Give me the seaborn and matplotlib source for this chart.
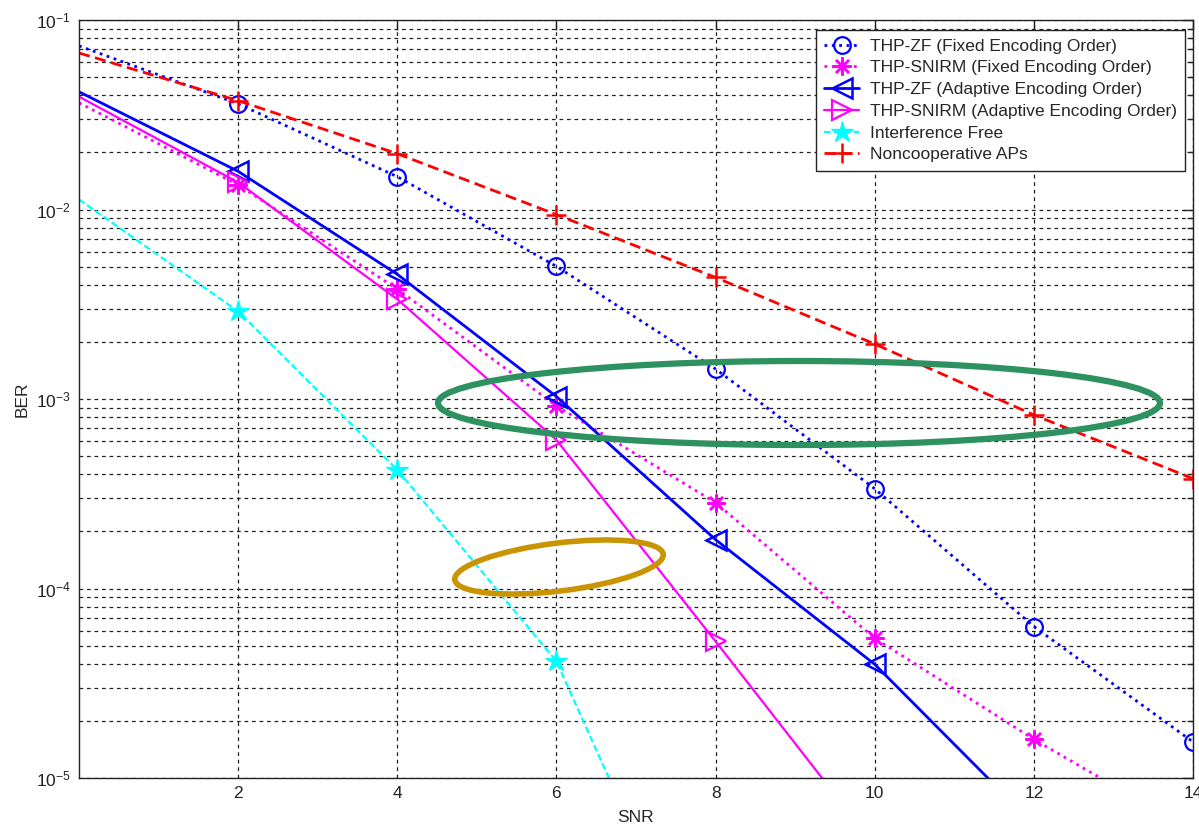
import numpy as np
import pandas as pd
import matplotlib
matplotlib.use("Agg")
import matplotlib.pyplot as plt
import matplotlib.ticker as mticker
from matplotlib.patches import Ellipse
from matplotlib.transforms import IdentityTransform
import seaborn as sns

# ---------------------------
# Data (x = SNR in dB)
# ---------------------------
snr = [0, 2, 4, 6, 8, 10, 12, 14]

thp_zf_fixed = [0.073, 0.0361, 0.0149, 0.00501, 0.00144, 3.36e-4, 6.3e-5, 1.55e-5]
thp_snirm_fixed = [0.0366, 0.0135, 3.8e-3, 9.2e-4, 2.84e-4, 5.46e-5, 1.6e-5, 5.2e-6]
thp_zf_adapt = [0.0418, 0.0159, 4.55e-3, 1.03e-3, 1.81e-4, 3.98e-5, 5.7e-6]
thp_snirm_adapt = [0.0394, 0.0139, 3.36e-3, 6.08e-4, 5.26e-5, 4.4e-6]
interference_free = [0.0113, 2.9e-3, 4.23e-4, 4.13e-5, 5.6e-7]
noncoop = [0.067, 0.0375, 0.0197, 9.4e-3, 4.38e-3, 1.95e-3, 8.24e-4, 3.8e-4]

labels = ["THP-ZF (Fixed Encoding Order)",
          "THP-SNIRM (Fixed Encoding Order)",
          "THP-ZF (Adaptive Encoding Order)",
          "THP-SNIRM (Adaptive Encoding Order)",
          "Interference Free",
          "Noncooperative APs"]

# ---------------------------
# Style
# ---------------------------
sns.set_style("white")
plt.rcParams['font.family'] = ['Liberation Sans', 'DejaVu Sans']
plt.rcParams['mathtext.default'] = 'regular'

fig = plt.figure(figsize=(11.99, 8.25), dpi=100)
ax = fig.add_axes([79/1199, 47/825, (1193-79)/1199, (778-20)/825])

series = [
    (thp_zf_fixed,      dict(color='#0000ff', linestyle=':', marker='o', markersize=12, mfc='none', mew=1.6, lw=2.0)),
    (thp_snirm_fixed,   dict(color='#ff00ff', linestyle=':', marker=(8, 2, 0), markersize=13, mew=1.8, lw=2.0)),
    (thp_zf_adapt,      dict(color='#0000ff', linestyle='-', marker='<', markersize=14, mfc='none', mew=1.8, lw=2.0)),
    (thp_snirm_adapt,   dict(color='#ff00ff', linestyle='-', marker='>', markersize=14, mfc='none', mew=1.6, lw=1.6)),
    (interference_free, dict(color='#00ffff', linestyle=(0, (3, 1.5)), marker='*', markersize=16, mew=1.0, lw=1.6)),
    (noncoop,           dict(color='#ff0000', linestyle=(0, (4, 2)), marker='+', markersize=15, mew=1.8, lw=2.0)),
]

for (vals, kw), lab in zip(series, labels):
    df = pd.DataFrame({'SNR': snr[:len(vals)], 'BER': vals})
    sns.lineplot(data=df, x='SNR', y='BER', ax=ax, label=lab,
                 markevery=slice(1, None), mec=kw['color'], **kw)

ax.set_yscale('log')
ax.set_xlim(0, 14)
ax.set_ylim(1e-5, 1e-1)

ax.set_xticks([2, 4, 6, 8, 10, 12, 14])
ax.yaxis.set_major_locator(mticker.LogLocator(base=10, numticks=10))
ax.yaxis.set_minor_locator(mticker.LogLocator(base=10, subs=np.arange(2, 10), numticks=50))
ax.yaxis.set_major_formatter(mticker.FuncFormatter(lambda v, p: r'$10^{%d}$' % int(round(np.log10(v)))))
ax.yaxis.set_minor_formatter(mticker.NullFormatter())

ax.tick_params(axis='both', which='major', direction='in', length=7, width=1,
               labelsize=12.5, top=True, right=True, colors='#222222', pad=6)
ax.tick_params(axis='y', which='minor', direction='in', length=4, width=1, right=True)

grid_kw = dict(color='#222222', linestyle=(0, (3, 3)), linewidth=0.9)
ax.grid(True, which='major', axis='both', **grid_kw)
ax.grid(True, which='minor', axis='y', **grid_kw)

for sp in ax.spines.values():
    sp.set_color('#222222')
    sp.set_linewidth(1.0)

ax.set_xlabel('SNR', fontsize=12.5, labelpad=6)
ax.set_ylabel('BER', fontsize=12.5, labelpad=4)

leg = ax.legend(loc='upper right', bbox_to_anchor=(0.993, 0.987), borderaxespad=0,
                fontsize=12.5, frameon=True, fancybox=False, framealpha=1,
                edgecolor='#222222', handlelength=2.0, handletextpad=0.6,
                labelspacing=0.38, borderpad=0.5)
leg.get_frame().set_linewidth(1.0)

# highlight ellipses drawn over the chart (pixel coordinates, origin bottom-left)
fig.patches.append(Ellipse((799, 825 - 403), 722, 84, angle=0, fill=False,
                           edgecolor='#2e9160', linewidth=4.5, transform=IdentityTransform()))
fig.patches.append(Ellipse((559, 825 - 567), 210, 48, angle=7, fill=False,
                           edgecolor='#c99400', linewidth=4.0, transform=IdentityTransform()))

fig.savefig('out.png', dpi=100)
